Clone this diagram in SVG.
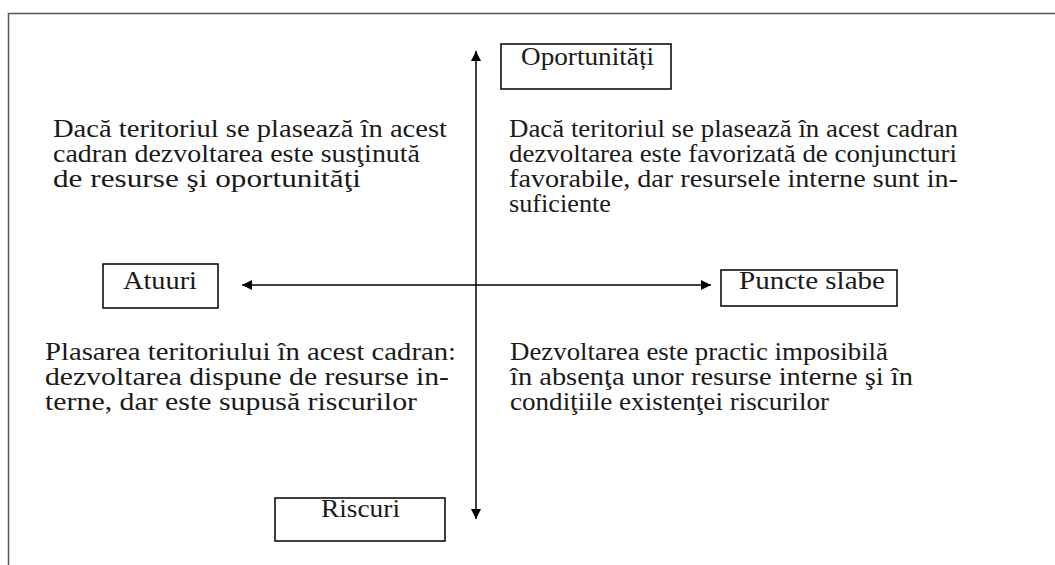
<svg xmlns="http://www.w3.org/2000/svg" width="1055" height="565" viewBox="0 0 1055 565">
<defs>
<marker id="ah" viewBox="0 0 10 10" refX="10" refY="5" markerWidth="10" markerHeight="10" markerUnits="userSpaceOnUse" orient="auto-start-reverse">
<path d="M0,0 L10,5 L0,10 z" fill="#000"/>
</marker>
<style>
text{font-size:26px;fill:#1a1a1a}
.box{fill:#fff;stroke:#000;stroke-width:1.5}
.ax{stroke:#000;stroke-width:1.5;fill:none}
</style>
</defs>
<rect width="1055" height="565" fill="#fff"/>
<path d="M8.5,565 V13.5 H1055" fill="none" stroke="#555" stroke-width="1.5"/>
<g id="connectors">
<line class="ax" x1="476" y1="51" x2="476" y2="519" marker-start="url(#ah)" marker-end="url(#ah)"/>
<line class="ax" x1="242" y1="285" x2="711" y2="285" marker-start="url(#ah)" marker-end="url(#ah)"/>
</g>
<g font-family="Liberation Serif">
<g id="oportunitati">
<rect class="box" x="501" y="44" width="170" height="45"/>
<text x="521" y="65" textLength="133" lengthAdjust="spacingAndGlyphs">Oportunități</text>
</g>
<g id="atuuri">
<rect class="box" x="103" y="264" width="115" height="44"/>
<text x="123" y="289" textLength="74" lengthAdjust="spacingAndGlyphs">Atuuri</text>
</g>
<g id="puncte-slabe">
<rect class="box" x="721" y="270" width="176" height="36"/>
<text x="739" y="289" textLength="146" lengthAdjust="spacingAndGlyphs">Puncte slabe</text>
</g>
<g id="riscuri">
<rect class="box" x="275" y="498" width="170" height="43"/>
<text x="321" y="517" textLength="79" lengthAdjust="spacingAndGlyphs">Riscuri</text>
</g>
<g id="q1">
<text x="53" y="137" textLength="394" lengthAdjust="spacingAndGlyphs">Dacă teritoriul se plasează în acest</text>
<text x="53" y="162" textLength="367" lengthAdjust="spacingAndGlyphs">cadran dezvoltarea este susţinută</text>
<text x="53" y="187" textLength="308" lengthAdjust="spacingAndGlyphs">de resurse şi oportunităţi</text>
</g>
<g id="q2">
<text x="509" y="137" textLength="449" lengthAdjust="spacingAndGlyphs">Dacă teritoriul se plasează în acest cadran</text>
<text x="509" y="162" textLength="448" lengthAdjust="spacingAndGlyphs">dezvoltarea este favorizată de conjuncturi</text>
<text x="509" y="187" textLength="449" lengthAdjust="spacingAndGlyphs">favorabile, dar resursele interne sunt in-</text>
<text x="509" y="212" textLength="102" lengthAdjust="spacingAndGlyphs">suficiente</text>
</g>
<g id="q3">
<text x="45" y="360" textLength="411" lengthAdjust="spacingAndGlyphs">Plasarea teritoriului în acest cadran:</text>
<text x="45" y="385" textLength="404" lengthAdjust="spacingAndGlyphs">dezvoltarea dispune de resurse in-</text>
<text x="45" y="410" textLength="372" lengthAdjust="spacingAndGlyphs">terne, dar este supusă riscurilor</text>
</g>
<g id="q4">
<text x="510" y="360" textLength="378" lengthAdjust="spacingAndGlyphs">Dezvoltarea este practic imposibilă</text>
<text x="510" y="385" textLength="403" lengthAdjust="spacingAndGlyphs">în absenţa unor resurse interne şi în</text>
<text x="510" y="410" textLength="319" lengthAdjust="spacingAndGlyphs">condiţiile existenţei riscurilor</text>
</g>
</g>
</svg>
